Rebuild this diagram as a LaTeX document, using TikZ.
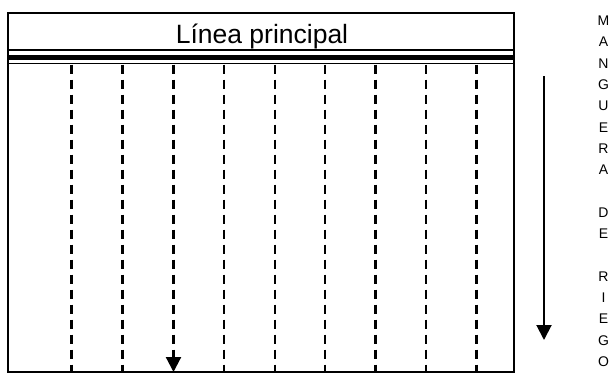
\documentclass[tikz,border=0pt]{standalone}
\usepackage{fontspec}
\setmainfont{Liberation Sans}
\usetikzlibrary{arrows.meta}
\tikzset{
  frame/.style={line width=2.3pt},
  thinrule/.style={line width=1.8pt},
  thickrule/.style={line width=5pt},
  hose/.style={line width=2.2pt, dash pattern=on 9pt off 6pt},
  tip/.style={-{Triangle[width=15pt,length=15pt]}},
  letter/.style={font=\fontsize{14}{16}\selectfont, inner sep=0pt, anchor=base},
  title/.style={font=\fontsize{26.5}{30}\selectfont, inner sep=0pt, anchor=base}
}
\begin{document}
\begin{tikzpicture}[x=1pt,y=1pt]
\useasboundingbox (0,0) rectangle (616,-375);
% outer frame
\draw[frame] (8,-13) rectangle (514,-372);
% header
\node[title] (title) at (262,-43) {Línea principal};
\coordinate (hl1) at (8,-50);
\coordinate (hr1) at (514,-50);
\coordinate (hl2) at (8,-57.5);
\coordinate (hr2) at (514,-57.5);
\coordinate (hl3) at (8,-63.5);
\coordinate (hr3) at (514,-63.5);
\draw[thinrule] (hl1) -- (hr1);
\draw[thickrule] (hl2) -- (hr2);
\draw[thinrule] (hl3) -- (hr3);
% hoses
\foreach \i/\x in {1/71.5,2/122.5,4/224,5/275,6/325,7/375.5,8/426,9/476.5} {
  \coordinate (t\i) at (\x,-64.5);
  \coordinate (b\i) at (\x,-372);
  \draw[hose] (t\i) -- (b\i);
}
\coordinate (t3) at (173.5,-64.5);
\coordinate (b3) at (173.5,-372);
\draw[hose,tip] (t3) -- (b3);
% side arrow
\coordinate (as) at (544,-76);
\coordinate (ae) at (544,-340);
\draw[line width=2pt,tip] (as) -- (ae);
% vertical label
\foreach \i/\ch in {0/M,1/A,2/N,3/G,4/U,5/E,6/R,7/A,9/D,10/E,12/R,13/I,14/E,15/G,16/O} {
  \node[letter] (v\i) at (603.5,{-25.5-21.3*\i}) {\ch};
}
\end{tikzpicture}
\end{document}
